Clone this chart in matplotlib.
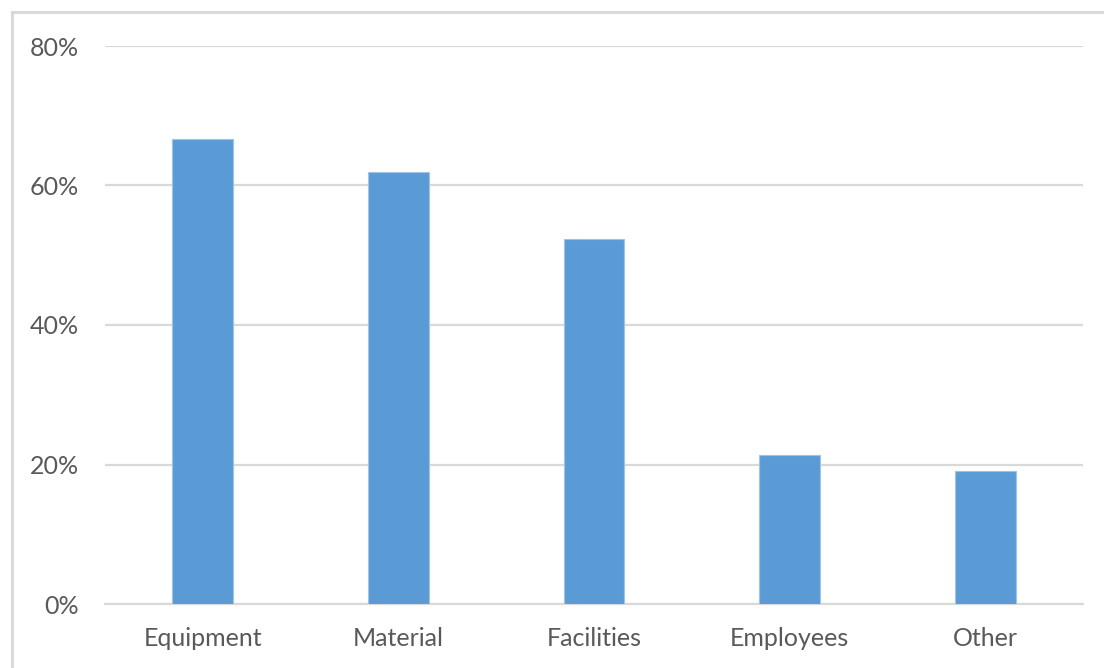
import matplotlib.pyplot as plt
from matplotlib.patches import Rectangle
from matplotlib.ticker import FuncFormatter

categories = ["Equipment", "Material", "Facilities", "Employees", "Other"]
shares = [66.6, 62.0, 52.4, 21.3, 19.0]

plt.rcParams['font.family'] = ['Lato', 'DejaVu Sans']

fig = plt.figure(figsize=(11.04, 6.68), dpi=100)
ax = fig.add_axes([105 / 1104, 64 / 668, 978 / 1104, 558 / 668])

# light chart-area frame, cropped at right and bottom
fig.patches.append(Rectangle((12 / 1104, -0.1), 1.2, (656 / 668) + 0.1,
                             transform=fig.transFigure, fill=False,
                             edgecolor='#d9d9d9', linewidth=2.2))

x = range(len(categories))
ax.bar(x, shares, width=0.31, color='#5b9bd5', edgecolor='#9dc3e6',
       linewidth=0.8, zorder=3)

ax.set_xlim(-0.5, len(categories) - 0.5)
ax.set_ylim(0, 80)
ax.set_yticks([0, 20, 40, 60, 80])
ax.yaxis.set_major_formatter(FuncFormatter(lambda v, _: f"{v:.0f}%"))
ax.set_xticks(list(x))
ax.set_xticklabels(categories)

ax.grid(axis='y', color='#d9d9d9', linewidth=1.6, zorder=0)
ax.set_axisbelow(True)
for side in ['top', 'right', 'left']:
    ax.spines[side].set_visible(False)
ax.spines['bottom'].set_color('#d9d9d9')
ax.spines['bottom'].set_linewidth(1.6)

ax.tick_params(axis='both', length=0, labelsize=18, labelcolor='#595959')
ax.tick_params(axis='y', pad=18.7)
ax.tick_params(axis='x', pad=16.5)

fig.savefig("out.png", dpi=100)
